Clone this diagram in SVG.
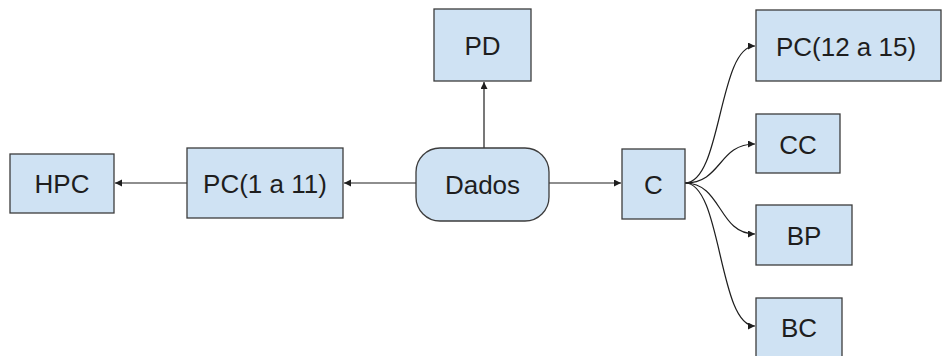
<svg xmlns="http://www.w3.org/2000/svg" width="944" height="356" viewBox="0 0 944 356">
  <style>
    .box { fill: #cfe2f3; stroke: #3c3c3c; stroke-width: 1.3; }
    .lbl { font-family: "Liberation Sans", Arial, sans-serif; font-size: 26px; fill: #1e1e1e; text-anchor: middle; }
    .edge { fill: none; stroke: #1e1e1e; stroke-width: 1.2; marker-end: url(#arrow); }
  </style>
  <defs>
    <marker id="arrow" markerUnits="userSpaceOnUse" markerWidth="8" markerHeight="8" refX="7" refY="3.5" orient="auto">
      <path d="M0,0 L7,3.5 L0,7 Z" fill="#1e1e1e"/>
    </marker>
  </defs>
  <rect width="944" height="356" fill="#ffffff"/>

  <g id="connectors">
    <path class="edge" d="M416,183 L344,183"/>
    <path class="edge" d="M187,183 L115,183"/>
    <path class="edge" d="M484,148 L484,82"/>
    <path class="edge" d="M549,183 L621,183"/>
    <path class="edge" d="M685,183 C722,183 718,46 755,46"/>
    <path class="edge" d="M685,183 C722,183 718,144 755,144"/>
    <path class="edge" d="M685,183 C722,183 718,234 755,234"/>
    <path class="edge" d="M685,183 C722,183 718,326 755,326"/>
  </g>

  <g id="hpc">
    <rect class="box" x="10" y="154" width="104" height="59"/>
    <text class="lbl" x="62" y="193">HPC</text>
  </g>
  <g id="pc-1-11">
    <rect class="box" x="187" y="148" width="156" height="70"/>
    <text class="lbl" x="265" y="193">PC(1 a 11)</text>
  </g>
  <g id="dados">
    <rect class="box" x="416" y="148" width="133" height="73" rx="24" ry="24"/>
    <text class="lbl" x="482.5" y="194">Dados</text>
  </g>
  <g id="pd">
    <rect class="box" x="434" y="9" width="97" height="72"/>
    <text class="lbl" x="482.5" y="55">PD</text>
  </g>
  <g id="c">
    <rect class="box" x="622" y="149" width="63" height="70"/>
    <text class="lbl" x="653.5" y="194">C</text>
  </g>
  <g id="pc-12-15">
    <rect class="box" x="756" y="10" width="185" height="71"/>
    <text class="lbl" x="846" y="56">PC(12 a 15)</text>
  </g>
  <g id="cc">
    <rect class="box" x="756" y="114" width="84" height="59"/>
    <text class="lbl" x="798" y="154">CC</text>
  </g>
  <g id="bp">
    <rect class="box" x="756" y="205" width="96" height="60"/>
    <text class="lbl" x="804" y="245">BP</text>
  </g>
  <g id="bc">
    <rect class="box" x="756" y="298" width="86" height="62"/>
    <text class="lbl" x="799" y="337">BC</text>
  </g>
</svg>
